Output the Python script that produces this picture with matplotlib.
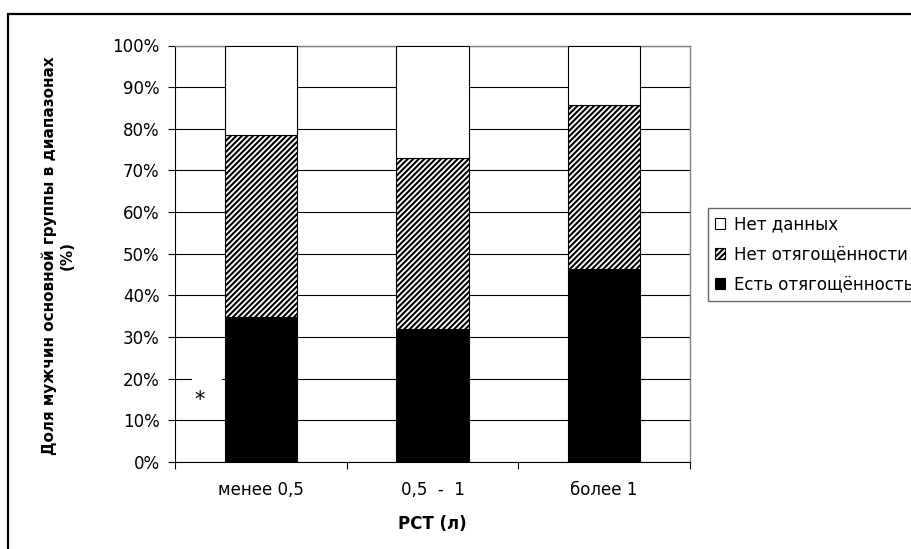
import matplotlib
matplotlib.use("Agg")
import matplotlib.pyplot as plt
from matplotlib.patches import Rectangle
import numpy as np

categories = ["менее 0,5", "0,5  -  1", "более 1"]
est_otyag = [34.9, 31.9, 46.4]      # Есть отягощённость
net_otyag = [43.5, 41.1, 39.4]      # Нет отягощённости
net_dannyh = [21.6, 27.0, 14.2]     # Нет данных
yticks = [0, 10, 20, 30, 40, 50, 60, 70, 80, 90, 100]
ytick_labels = [f"{v}%" for v in yticks]

plt.rcParams['font.family'] = ['DejaVu Sans']
plt.rcParams['hatch.linewidth'] = 1.5

W, H = 912, 549
fig = plt.figure(figsize=(W/100, H/100), dpi=100)
ax = fig.add_axes([175/W, 1-462/H, (690-175)/W, (462-45.5)/H])

x = np.arange(len(categories))
bw = 0.42
b1 = ax.bar(x, est_otyag, bw, color='black', edgecolor='black', lw=0.8, zorder=3,
            label='Есть отягощённость')
b2 = ax.bar(x, net_otyag, bw, bottom=est_otyag, color='white', edgecolor='black',
            hatch='//////', lw=0.8, zorder=3, label='Нет отягощённости')
bottom3 = np.array(est_otyag) + np.array(net_otyag)
b3 = ax.bar(x, net_dannyh, bw, bottom=bottom3, color='white', edgecolor='black',
            lw=0.8, zorder=3, label='Нет данных')

ax.set_xlim(-0.5, len(categories)-0.5)
ax.set_ylim(0, 100)
ax.set_yticks(yticks)
ax.set_yticklabels(ytick_labels, fontsize=12)
ax.yaxis.grid(True, color='black', lw=0.8, zorder=0)
ax.set_axisbelow(True)

ax.set_xticks(x)
ax.set_xticklabels(categories, fontsize=12)
ax.set_xticks(np.arange(-0.5, len(categories), 1.0), minor=True)
ax.tick_params(axis='x', which='major', length=0, pad=14)
ax.tick_params(axis='x', which='minor', length=5, direction='out', width=0.8)
ax.tick_params(axis='y', length=5, direction='out', width=0.8, pad=6)

for s in ['left', 'bottom']:
    ax.spines[s].set_color('black')
    ax.spines[s].set_linewidth(0.8)
for s in ['top', 'right']:
    ax.spines[s].set_color('#808080')
    ax.spines[s].set_linewidth(1.0)

ax.set_xlabel("РСТ (л)", fontsize=12, fontweight='bold', labelpad=11)

fig.text(58/W, 1-256/H, "Доля мужчин основной группы в диапазонах\n(%)",
         rotation=90, ha='center', va='center', fontsize=11, fontweight='bold',
         multialignment='center', linespacing=1.25)

# white mask behind the asterisk annotation (gap in the 20% gridline)
ax.add_patch(Rectangle((-0.40, 18.3), 0.175, 3.5, fc='white', ec='none', zorder=1))
ax.text(-0.355, 14.8, "*", fontsize=15, ha='center', va='center', zorder=4)

handles = [b3, b2, b1]
labels = ['Нет данных', 'Нет отягощённости', 'Есть отягощённость']
leg = fig.legend(handles, labels, loc='upper left',
                 bbox_to_anchor=(708/W, 1-208/H), bbox_transform=fig.transFigure,
                 fontsize=12, frameon=True, fancybox=False, edgecolor='#404040',
                 handlelength=0.6, handleheight=0.6, handletextpad=0.5,
                 labelspacing=0.72, borderpad=0.45, borderaxespad=0)
leg.get_frame().set_linewidth(1.0)

fig.patches.append(Rectangle((8/W, -0.05), 1.0, 1-14/H+0.05, transform=fig.transFigure,
                             fill=False, ec='black', lw=1.6))

fig.savefig("out.png", dpi=100, facecolor='white')
